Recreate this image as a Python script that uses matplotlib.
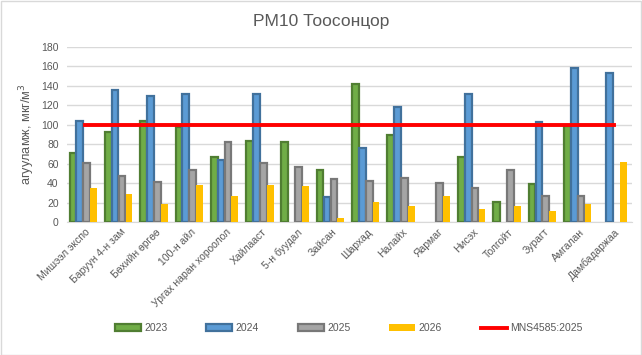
import numpy as np
import matplotlib
matplotlib.use("Agg")
import matplotlib.pyplot as plt
from matplotlib.patches import Rectangle

plt.rcParams['font.family'] = ['Liberation Sans', 'DejaVu Sans']

# 데이터
stations = ["Мишээл экспо", "Баруун 4-н зам", "Бөхийн өргөө", "100-н айл",
            "Ургах наран хороолол", "Хайлааст", "5-н буудал", "Зайсан",
            "Шархад", "Налайх", "Яармаг", "Нисэх", "Толгойт", "Зурагт",
            "Амгалан", "Дамбадаржаа"]
v2023 = [71, 93, 104, 98, 67, 83, 82, 54, 142, 89, None, 67, 21, 39, 99, None]
v2024 = [104, 136, 130, 132, 64, 132, None, 26, 76, 118, None, 132, None, 103, 158, 153]
v2025 = [61, 47, 41, 53, 82, 61, 57, 44, 42, 45, 40, 35, 54, 27, 27, None]
v2026 = [35, 29, 19, 38, 27, 38, 37, 4, 21, 16, 27, 13, 16, 11, 19, 62]
mns_limit = 100

series = [
    ("2023", v2023, "#70AD47", "#507E32"),
    ("2024", v2024, "#5B9BD5", "#41719C"),
    ("2025", v2025, "#A5A5A5", "#787878"),
    ("2026", v2026, "#FFC000", None),
]

text_col = "#595959"
grid_col = "#D9D9D9"

fig = plt.figure(figsize=(6.42, 3.55), dpi=100)
fig.patches.append(Rectangle((0.001, 0.001), 0.997, 0.996, transform=fig.transFigure,
                             fill=False, edgecolor=grid_col, linewidth=1))
ax = fig.add_axes([0.1044, 0.3746, 0.88, 0.493])

x = np.arange(len(stations))
width = 0.19
offsets = (np.arange(4) - 1.5) * 0.195 - 0.04

handles = []
for (name, vals, fc, ec), off in zip(series, offsets):
    arr = np.array([np.nan if v is None else v for v in vals], dtype=float)
    ok = ~np.isnan(arr)
    if ec is None:
        b = ax.bar(x[ok] + off, arr[ok], width, color=fc, linewidth=0, zorder=3, label=name)
    else:
        b = ax.bar(x[ok] + off, arr[ok], width, color=fc, edgecolor=ec, linewidth=1.6,
                   zorder=3, label=name)
    handles.append(b)

line, = ax.plot(x, [mns_limit] * len(x), color="#FF0000", linewidth=2.8, zorder=4,
                label="MNS4585:2025")
handles.append(line)

ax.set_xlim(-0.5, len(stations) - 0.5)
ax.set_ylim(0, 180)
ax.set_yticks(range(0, 181, 20))
ax.yaxis.grid(True, color=grid_col, linewidth=1)
ax.set_axisbelow(True)
for s in ["top", "right", "left"]:
    ax.spines[s].set_visible(False)
ax.spines["bottom"].set_color(grid_col)
ax.tick_params(axis="both", length=0, labelsize=7.5, colors=text_col)
ax.tick_params(axis="y", pad=6)
ax.set_xticks(x)
ax.set_xticklabels(stations, rotation=45, ha="right", rotation_mode="anchor")

ax.set_ylabel("агууламж, мкг/м$^3$", fontsize=9.2, color=text_col, labelpad=3)
fig.text(0.5, 0.94, "PM10 Тоосонцор", ha="center", va="center", fontsize=12.5, color=text_col)

fig.legend(handles=handles, loc="center", bbox_to_anchor=(0.543, 0.076), ncol=5,
           frameon=False, fontsize=7.5, labelcolor=text_col, handlelength=2.5,
           handleheight=0.6, columnspacing=3.75, handletextpad=0.3)

fig.savefig("out.png", dpi=100)
